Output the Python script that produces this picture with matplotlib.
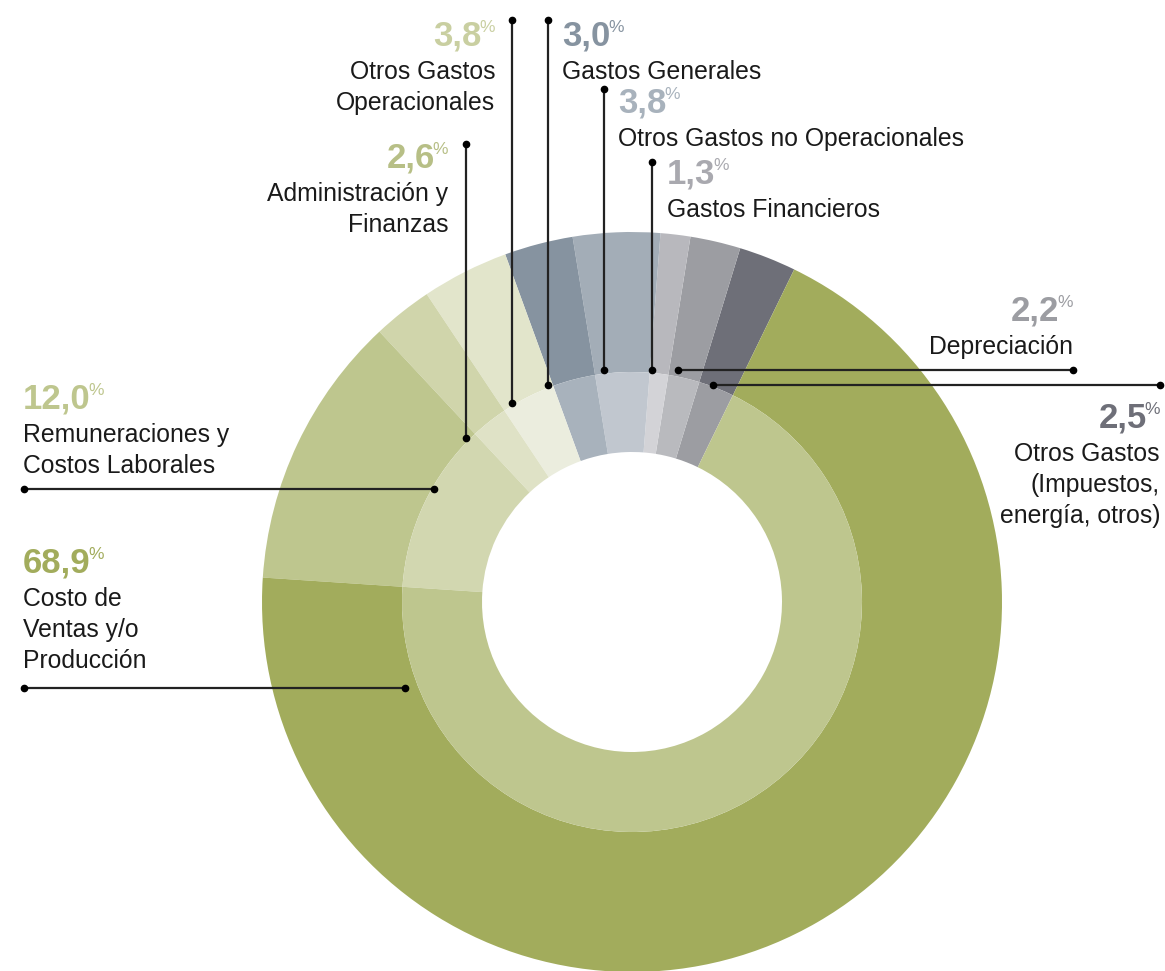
import matplotlib
matplotlib.use("Agg")
import matplotlib.pyplot as plt

plt.rcParams['font.family'] = ['Liberation Sans', 'DejaVu Sans']

# slices in drawing order (counterclockwise, starting at the right side of the top)
labels = [["Otros Gastos", "(Impuestos,", "energía, otros)"], ["Depreciación"], ["Gastos Financieros"],
          ["Otros Gastos no Operacionales"], ["Gastos Generales"], ["Otros Gastos", "Operacionales"],
          ["Administración y", "Finanzas"], ["Remuneraciones y", "Costos Laborales"],
          ["Costo de", "Ventas y/o", "Producción"]]
values = [2.5, 2.2, 1.3, 3.8, 3.0, 3.8, 2.6, 12.0, 68.9]
value_text = ["2,5", "2,2", "1,3", "3,8", "3,0", "3,8", "2,6", "12,0", "68,9"]

outer_colors = ["#6e6f78", "#9c9da2", "#b8b8bd", "#a3adb7", "#8693a0",
                "#e2e5cb", "#d0d5ab", "#bec68e", "#a2ac5c"]
inner_colors = ["#9c9da2", "#b9babe", "#d3d3d7", "#c1c7cf", "#a8b2bc",
                "#ebedde", "#dfe2c6", "#d2d7b0", "#bec68e"]
label_colors = ["#6e6f78", "#9c9da2", "#a9a9af", "#a8b2bc", "#8693a0",
                "#c9cfa1", "#b7bf86", "#bec68e", "#a2ac5c"]

W, H = 1165, 971
fig = plt.figure(figsize=(W / 100, H / 100), dpi=100)
ax = fig.add_axes([0, 0, 1, 1])
ax.set_xlim(0, W)
ax.set_ylim(0, H)
ax.set_aspect("equal")
ax.axis("off")


def Y(py):
    return H - py


cx, cy = 632, Y(602)
ax.pie(values, radius=370, center=(cx, cy), startangle=64, counterclock=True,
       colors=outer_colors, wedgeprops=dict(width=140, linewidth=0))
ax.pie(values, radius=230, center=(cx, cy), startangle=64, counterclock=True,
       colors=inner_colors, wedgeprops=dict(width=80, linewidth=0))
ax.set_xlim(0, W)
ax.set_ylim(0, H)

# leader lines: (x0, y0, x1, y1) in pixels
leaders = [(713, 385, 1160, 385), (678, 370, 1073, 370), (652, 162, 652, 370),
           (604, 89, 604, 370), (548, 20, 548, 385), (512, 20, 512, 403),
           (466, 144, 466, 438), (24, 489, 434, 489), (24, 688, 405, 688)]
for x0, y0, x1, y1 in leaders:
    ax.plot([x0, x1], [Y(y0), Y(y1)], color="#222222", lw=1.6, zorder=5)
    ax.plot([x0, x1], [Y(y0), Y(y1)], "o", color="black", ms=4.5, zorder=6)

# text anchors: x, baseline of number, alignment
anchors = [(1160, 427, "right"), (1073, 320, "right"), (667, 183, "left"),
           (618, 112, "left"), (562, 45, "left"), (495, 45, "right"),
           (448, 167, "right"), (23, 408, "left"), (23, 572, "left")]

fig.canvas.draw()
renderer = fig.canvas.get_renderer()
inv = ax.transData.inverted()

for lab, num, col, (x, yb, ha) in zip(labels, value_text, label_colors, anchors):
    if ha == "left":
        t = ax.text(x, Y(yb), num, ha="left", va="baseline", fontsize=25,
                    fontweight="bold", color=col)
        bb = t.get_window_extent(renderer)
        xr = inv.transform((bb.x1, 0))[0]
        ax.text(xr - 2, Y(yb - 25), "%", ha="left", va="top", fontsize=12.5, color=col)
    else:
        p = ax.text(x, Y(yb - 25), "%", ha="right", va="top", fontsize=12.5, color=col)
        bb = p.get_window_extent(renderer)
        xl = inv.transform((bb.x0, 0))[0]
        ax.text(xl + 2, Y(yb), num, ha="right", va="baseline", fontsize=25,
                fontweight="bold", color=col)
    for i, line in enumerate(lab):
        ax.text(x, Y(yb + 34 + 31 * i), line, ha=ha, va="baseline", fontsize=17.8,
                color="#1a1a1a")

fig.savefig("out.png", dpi=100, facecolor="white")
